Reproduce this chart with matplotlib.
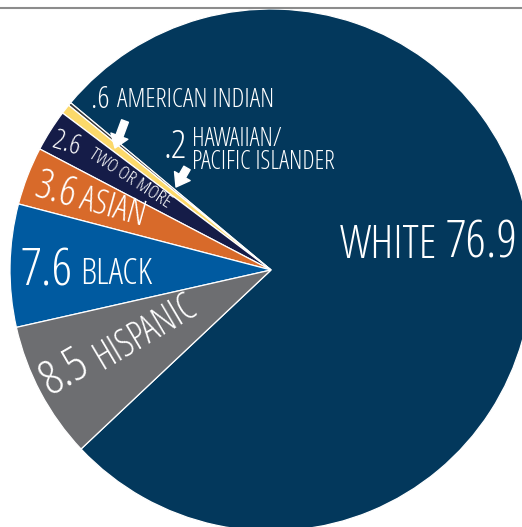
import os
import matplotlib
matplotlib.use('Agg')
import matplotlib.pyplot as plt
from matplotlib import font_manager
from matplotlib.lines import Line2D

#shares by race / ethnicity, percent (pie order, counterclockwise from white)
groups = ['White', 'Hawaiian/Pacific Islander', 'American Indian', 'Two or more', 'Asian', 'Black', 'Hispanic']
shares = [76.9, 0.2, 0.6, 2.6, 3.6, 7.6, 8.5]
colors = ['#03385c', '#3a3a3a', '#fcd96a', '#151c48', '#d86a2a', '#005aa0', '#6d6e71']

#label texts: number part and name part
numbers = ['76.9', '.2', '.6', '2.6', '3.6', '7.6', '8.5']
names = ['WHITE', 'HAWAIIAN/\nPACIFIC ISLANDER', 'AMERICAN INDIAN', 'TWO OR MORE', 'ASIAN', 'BLACK', 'HISPANIC']

#figure size and pie placement in pixels
W, H = 522, 527
cx, cy, R = 271, 270, 261


def pick_font():
    #the original uses a light condensed face; take the closest one installed
    prefs = ['NotoSans-ExtraCondensedLight', 'NotoSans-CondensedLight', 'OpenSans-CondLight',
             'NotoSans-ExtraCondensed', 'NotoSans-Condensed', 'RobotoCondensed-Light',
             'RobotoCondensed-Regular', 'LiberationSansNarrow-Regular', 'DejaVuSansCondensed']
    files = {os.path.splitext(os.path.basename(f.fname))[0]: f.fname for f in font_manager.fontManager.ttflist}
    for p in prefs:
        if p in files:
            return font_manager.FontProperties(fname=files[p])
    for stem, fn in files.items():
        s = stem.lower()
        if ('cond' in s or 'narrow' in s) and not any(k in s for k in ['bold', 'italic', 'mono', 'serif', 'black']):
            return font_manager.FontProperties(fname=fn)
    return font_manager.FontProperties(family='DejaVu Sans')


font = pick_font()

fig = plt.figure(figsize=(W / 100, H / 100), dpi=100)
ax = fig.add_axes([(cx - R) / W, (H - cy - R) / H, 2 * R / W, 2 * R / H])
ax.pie(shares, colors=colors, startangle=223.3, counterclock=True, radius=1,
       wedgeprops=dict(edgecolor='white', linewidth=0.9))
ax.set_xlim(-1, 1)
ax.set_ylim(-1, 1)
ax.set_aspect('equal')
ax.axis('off')

#grey rule along the top
fig.add_artist(Line2D([0, 1], [1 - 7.5 / H] * 2, color='#8c8c8c', linewidth=1.5,
                      transform=fig.transFigure))

renderer = fig.canvas.get_renderer()


def px(x, y):
    #pixel position in the picture -> data coords of the pie axes
    return (x - cx) / R, (cy - y) / R


def fit_size(s, width, max_size):
    #font size that makes the text about `width` pixels wide, capped by its height in the original
    t = ax.text(0, 0, s, fontproperties=font, fontsize=20)
    w = t.get_window_extent(renderer).width
    t.remove()
    return min(max_size, 20 * width / w)


def put(s, x, y, width, max_size, rot=0, size=None):
    fp = font.copy()
    fp.set_size(size if size else fit_size(s, width, max_size))
    ax.text(*px(x, y), s, fontproperties=fp, color='white', ha='left', va='baseline',
            rotation=rot, rotation_mode='anchor')


#white
put(names[0], 340, 258, 97, 34)
put(numbers[0], 446, 258, 72, 39)
#black
put(numbers[5], 21, 286, 52, 40)
put(names[5], 80, 284, 84, 26)
#hispanic
put(numbers[6], 50, 396, 48, 39, rot=30)
put(names[6], 102, 370, 120, 27, rot=30.7)
#asian
put(numbers[4], 32, 196, 46, 30, rot=-16)
put(names[4], 78, 208, 70, 25, rot=-15.5)
#two or more
put(numbers[3], 51, 147, 37, 20, rot=-17)
put(names[3], 88, 157, 94, 14, rot=-33)
#american indian
put(numbers[2], 91, 108, 22, 22)
put(names[2], 117, 107, 168, 19)
#hawaiian / pacific islander, two lines of one size
put(numbers[1], 164, 158, 23, 28)
line1, line2 = names[1].split('\n')
hs = min(fit_size(line1, 106, 18), fit_size(line2, 163, 18))
put(line1, 192, 146, 0, 0, size=hs)
put(line2, 192, 169, 0, 0, size=hs)

#white pointer arrows to the two thin slices
arrow = dict(arrowstyle='simple,head_length=0.7,head_width=1.0,tail_width=0.4',
             color='white', mutation_scale=13, shrinkA=0, shrinkB=0)
ax.annotate('', xy=px(115, 148), xytext=px(125, 121), arrowprops=arrow)
ax.annotate('', xy=px(176, 187), xytext=px(187, 168), arrowprops=arrow)

fig.savefig('out.png', dpi=100)
